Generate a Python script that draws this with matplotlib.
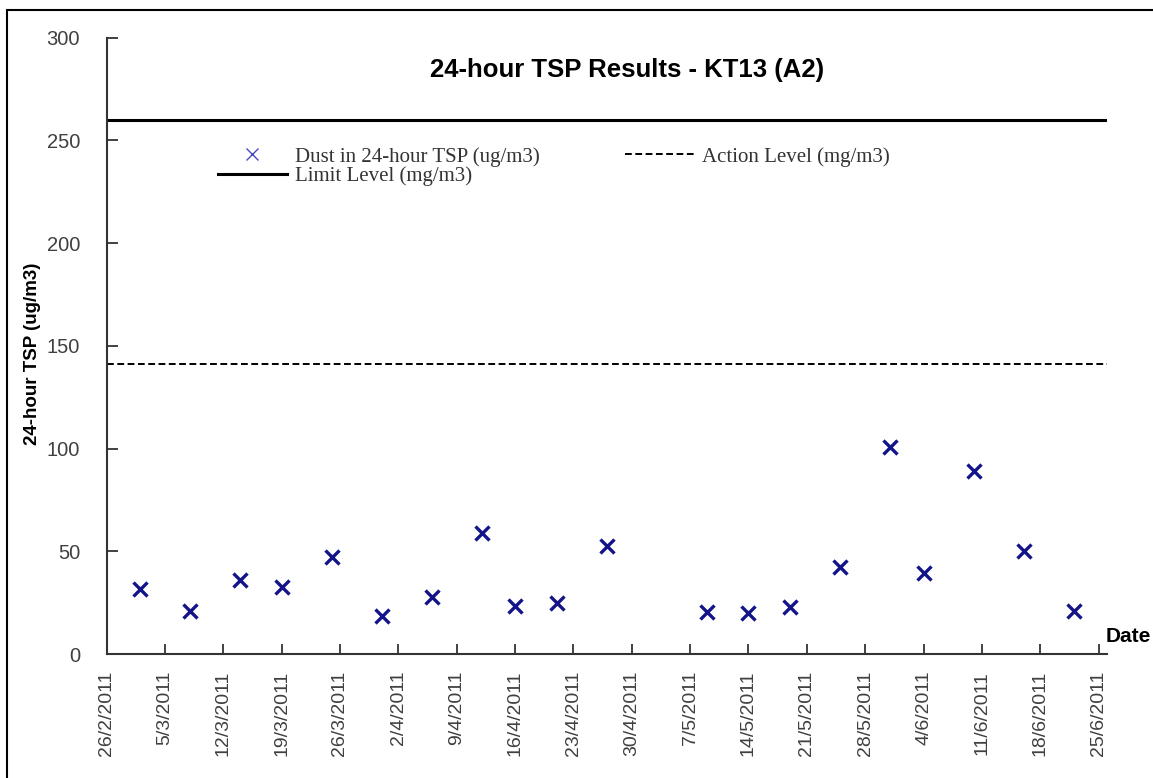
import numpy as np
import pandas as pd
import matplotlib
matplotlib.use("Agg")
import matplotlib.pyplot as plt
from matplotlib.patches import Rectangle

# sampling dates and 24-hour TSP results (ug/m3)
dates = ["2011-03-02", "2011-03-08", "2011-03-14", "2011-03-19", "2011-03-25",
         "2011-03-31", "2011-04-06", "2011-04-12", "2011-04-16", "2011-04-21",
         "2011-04-27", "2011-05-09", "2011-05-14", "2011-05-19", "2011-05-25",
         "2011-05-31", "2011-06-04", "2011-06-10", "2011-06-16", "2011-06-22"]
tsp = [31.6, 21.1, 36.0, 32.8, 47.4, 18.5, 27.9, 59.0, 23.5, 24.7,
       52.7, 20.4, 19.9, 23.1, 42.2, 100.8, 39.3, 89.0, 50.3, 21.0]
action_level = 141
limit_level = 260

tick_start = "2011-02-26"
tick_end = "2011-06-25"

dates = pd.to_datetime(dates)
ticks = pd.date_range(tick_start, tick_end, freq="7D")
tick_labels = [f"{d.day}/{d.month}/{d.year}" for d in ticks]

sans = "Liberation Sans"
gray = "#404040"

fig = plt.figure(figsize=(11.53, 7.78), dpi=100)
ax = fig.add_axes([106.5 / 1153, 1 - 654 / 778, (1107 - 106.5) / 1153, (654 - 37.7) / 778])

x0 = pd.Timestamp(tick_start)
x1 = pd.Timestamp(tick_end) + pd.Timedelta(days=1)

ax.plot(dates, tsp, linestyle="none", marker="x", ms=10, mew=2.4,
        color="#14148a", label="Dust in 24-hour TSP (ug/m3)")
ax.plot([x0, x1], [limit_level, limit_level], color="black", lw=2.2,
        label="Limit Level (mg/m3)")
ax.plot([x0, x1], [action_level, action_level], color="black", lw=1.4,
        dashes=(3.5, 1.8), label="Action Level (mg/m3)")

ax.set_xlim(x0, x1)
ax.set_ylim(0, 300)
ax.set_yticks([0, 50, 100, 150, 200, 250, 300])
ax.set_xticks(ticks)
ax.set_xticklabels(tick_labels, rotation=90, fontsize=14, family=sans, color=gray)
for lab in ax.get_yticklabels():
    lab.set_family(sans)
    lab.set_fontsize(14.5)
    lab.set_color(gray)

ax.tick_params(axis="y", direction="in", length=8, width=1.3, pad=19, colors="#333333",
               labelcolor=gray)
ax.tick_params(axis="x", direction="in", length=7, width=1.3, pad=12, colors="#333333",
               labelcolor=gray)
for s in ["top", "right"]:
    ax.spines[s].set_visible(False)
for s in ["left", "bottom"]:
    ax.spines[s].set_color("#333333")
    ax.spines[s].set_linewidth(1.5)

fig.text(627 / 1153, 1 - 70 / 778, "24-hour TSP Results - KT13 (A2)", ha="center",
         va="center", fontsize=18.5, fontweight="bold", family=sans)
fig.text(33 / 1153, 1 - 354 / 778, "24-hour TSP (ug/m3)", rotation=90, ha="center",
         va="center", fontsize=13.5, fontweight="bold", family=sans)
fig.text(1106 / 1153, 1 - 636 / 778, "Date", ha="left", va="center",
         fontsize=15, fontweight="bold", family=sans)

leg = ax.legend(loc="upper left", bbox_to_anchor=(218 / 1153, 1 - 147 / 778),
                bbox_transform=fig.transFigure, ncol=2, frameon=False,
                prop={"family": "Liberation Serif", "size": 15},
                handlelength=3.3, handletextpad=0.4, columnspacing=4.1,
                labelspacing=0.0, borderpad=0, borderaxespad=0)
for t in leg.get_texts():
    t.set_color("#333333")
h = leg.legend_handles[0]
h.set_markeredgewidth(1.0)
h.set_markersize(9)
h.set_color("#4a4ac0")

# outer frame around the picture
fig.patches.append(Rectangle((7 / 1153, -0.1), 1.2, 1 - 10 / 778 + 0.1,
                             transform=fig.transFigure, fill=False,
                             edgecolor="black", lw=1.5))

fig.savefig("out.png", dpi=100)
